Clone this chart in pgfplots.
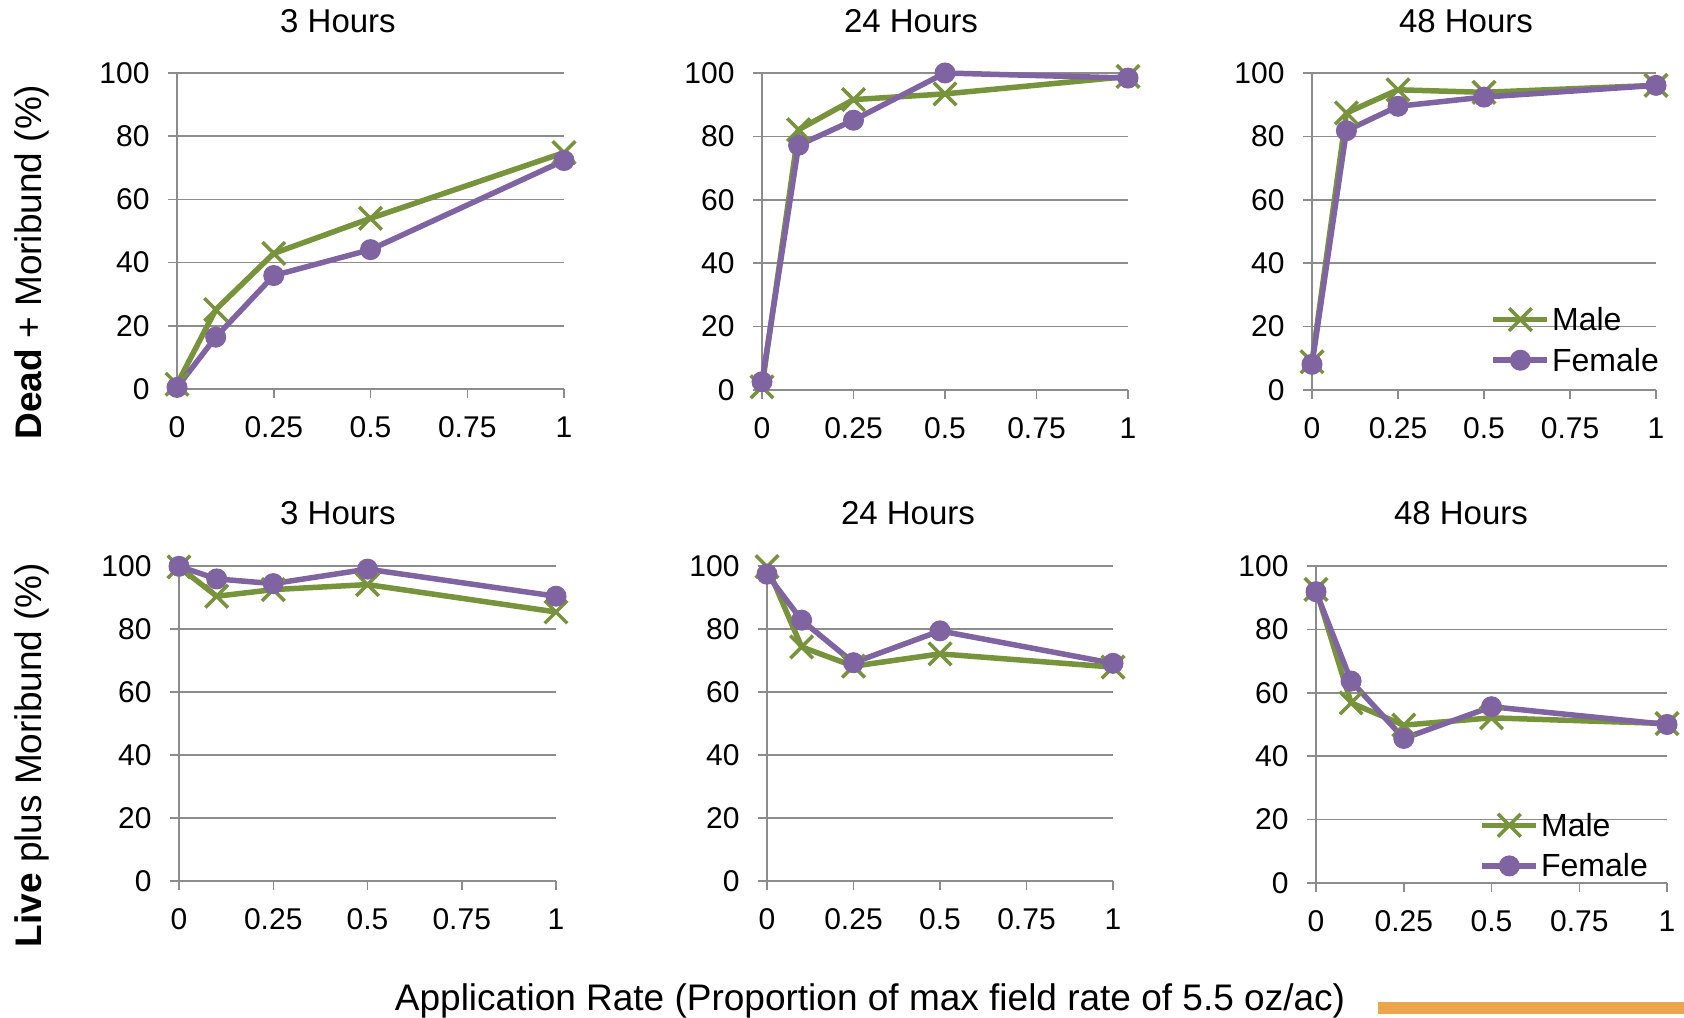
\documentclass[border=0pt]{standalone}
\usepackage{fontspec}
\setmainfont{Liberation Sans}
\usepackage{pgfplots}
\pgfplotsset{compat=1.18}
\usepackage{pgfplotstable}

\definecolor{mgreen}{HTML}{77933C}
\definecolor{fpurple}{HTML}{8064A2}
\definecolor{gridgray}{HTML}{8C8C8C}
\definecolor{barorange}{HTML}{EBA54B}

\newcommand{\tickfont}{\fontsize{30bp}{36bp}\selectfont}
\newcommand{\legfont}{\fontsize{32bp}{38bp}\selectfont}
\newcommand{\titlefont}{\fontsize{33bp}{39bp}\selectfont}
\newcommand{\labfont}{\fontsize{37bp}{44bp}\selectfont}

% dead + moribund (%)
\pgfplotstableread{
x    m3   f3   m24  f24  m48  f48
0    1.5  0.5  1.0  2.6  8.9  8.1
0.1  25.1 16.4 82.1 77.2 87.4 81.8
0.25 42.9 35.9 91.6 85.1 94.7 89.5
0.5  54.0 44.1 93.4 100  93.9 92.4
1    74.8 72.3 98.9 98.4 96.1 96.1
}\deadtab

% live plus moribund (%)
\pgfplotstableread{
x    m3   f3   m24  f24  m48  f48
0    99.7 99.9 99.8 97.4 92.6 91.9
0.1  90.4 95.9 74.3 82.8 56.8 63.7
0.25 92.5 94.4 68.2 69.3 49.8 45.6
0.5  94.1 99.0 72.1 79.4 52.1 55.6
1    85.4 90.4 67.9 69.1 50.3 50.0
}\livetab

\pgfplotsset{
  panel/.style={
    scale only axis,
    xmin=0, xmax=1, ymin=0, ymax=100,
    axis lines*=left,
    clip=false,
    xtick={0,0.25,0.5,0.75,1},
    xticklabels={0,0.25,0.5,0.75,1},
    ytick={0,20,40,60,80,100},
    ymajorgrids,
    grid style={gridgray, line width=1.5bp},
    axis line style={gridgray, line width=1.5bp},
    tick style={gridgray, line width=1.5bp},
    tick align=outside,
    major tick length=9bp,
    /pgf/number format/assume math mode=true,
    ticklabel style={font=\tickfont, text=black},
    xticklabel style={yshift=-15bp},
    yticklabel style={xshift=-15bp},
    legend style={draw=none, fill=none, font=\legfont, cells={anchor=west},
      row sep=12bp},
    legend image code/.code={
      \draw[mark repeat=2, mark phase=2, ##1] plot coordinates {(0bp,0bp) (27bp,0bp) (54bp,0bp)};
    },
  },
  male/.style={color=mgreen, line width=5.5bp, mark=x, mark size=16bp,
    mark options={solid, line width=3.5bp}},
  female/.style={color=fpurple, line width=5.5bp, mark=*, mark size=10bp,
    mark options={solid, line width=1bp}},
}

\begin{document}
\begin{tikzpicture}
\path[use as bounding box] (0,0) rectangle (1684bp,1018bp);

% top row
\begin{axis}[panel, at={(177bp,629bp)}, width=387bp, height=316bp]
\addplot[male] table[x=x, y=m3] {\deadtab};
\addplot[female] table[x=x, y=f3] {\deadtab};
\end{axis}

\begin{axis}[panel, at={(762bp,628bp)}, width=366bp, height=317bp]
\addplot[male] table[x=x, y=m24] {\deadtab};
\addplot[female] table[x=x, y=f24] {\deadtab};
\end{axis}

\begin{axis}[panel, at={(1312bp,628bp)}, width=344bp, height=317bp,
  legend style={at={(0.51,0.158)}, anchor=west}]
\addplot[male] table[x=x, y=m48] {\deadtab};
\addlegendentry{Male}
\addplot[female] table[x=x, y=f48] {\deadtab};
\addlegendentry{Female}
\end{axis}

% bottom row
\begin{axis}[panel, at={(179bp,137bp)}, width=377bp, height=315bp]
\addplot[male] table[x=x, y=m3] {\livetab};
\addplot[female] table[x=x, y=f3] {\livetab};
\end{axis}

\begin{axis}[panel, at={(767bp,137bp)}, width=346bp, height=315bp]
\addplot[male] table[x=x, y=m24] {\livetab};
\addplot[female] table[x=x, y=f24] {\livetab};
\end{axis}

\begin{axis}[panel, at={(1316bp,135bp)}, width=351bp, height=317bp,
  legend style={at={(0.457,0.118)}, anchor=west}]
\addplot[male] table[x=x, y=m48] {\livetab};
\addlegendentry{Male}
\addplot[female] table[x=x, y=f48] {\livetab};
\addlegendentry{Female}
\end{axis}

% titles
\node[font=\titlefont] at (338bp,997bp) {3 Hours};
\node[font=\titlefont] at (911bp,997bp) {24 Hours};
\node[font=\titlefont] at (1466bp,997bp) {48 Hours};
\node[font=\titlefont] at (338bp,505bp) {3 Hours};
\node[font=\titlefont] at (908bp,505bp) {24 Hours};
\node[font=\titlefont] at (1461bp,505bp) {48 Hours};

% axis labels
\node[font=\labfont, rotate=90] at (32bp,756bp) {\textbf{Dead} + Moribund (\%)};
\node[font=\labfont, rotate=90] at (32bp,263bp) {\textbf{Live} plus Moribund (\%)};
\node[font=\labfont] at (870bp,17bp) {Application Rate (Proportion of max field rate of 5.5 oz/ac)};

\fill[barorange] (1378bp,4bp) rectangle (1684bp,16bp);
\end{tikzpicture}
\end{document}
